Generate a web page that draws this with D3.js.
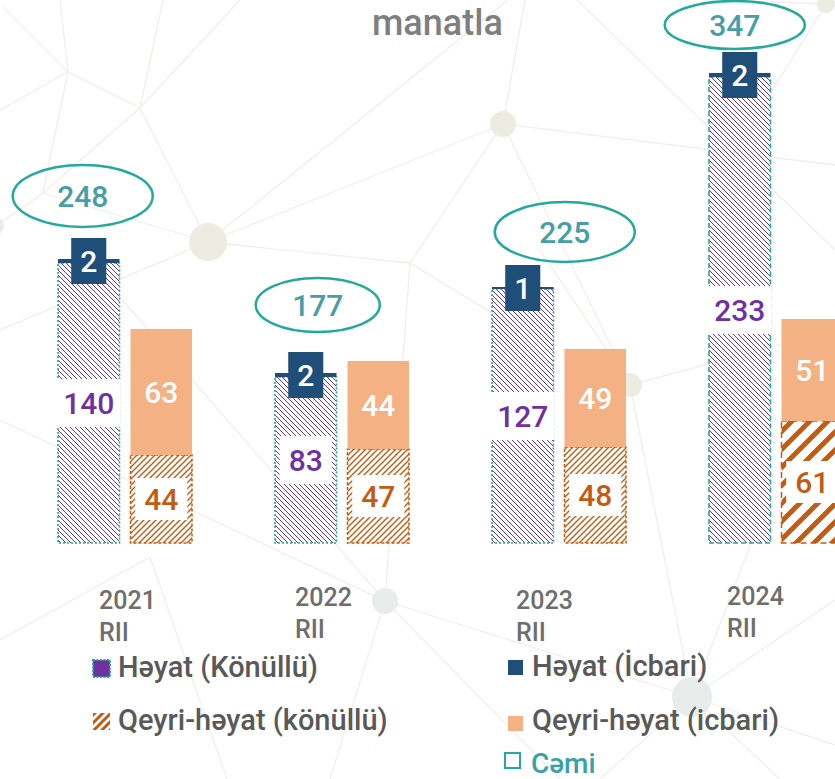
<!DOCTYPE html>
<html>
<head>
<meta charset="utf-8">
<script src="https://cdn.jsdelivr.net/npm/d3@7"></script>
<style>
  body { margin: 0; background: #fff; }
  svg { display: block; font-family: Roboto, "Noto Sans", sans-serif; }
</style>
</head>
<body>
<div id="chart"></div>
<script>
// chart data (manat)
const years = ['2021', '2022', '2023', '2024']
const periodLabel = 'RII'
const hayatKonullu = [140, 83, 127, 233]   // Həyat (Könüllü) - hatched purple
const hayatIcbari = [2, 2, 1, 2]           // Həyat (İcbari) - navy cap
const qeyriKonullu = [44, 47, 48, 61]      // Qeyri-həyat (könüllü) - hatched orange
const qeyriIcbari = [63, 44, 49, 51]       // Qeyri-həyat (icbari) - solid orange
const totals = [248, 177, 225, 347]        // Cəmi

// hand placed labels in the original (offsets from the bar they belong to)
const totalLabelLayout = [
    { dx: -6, dy: -63, rx: 70, ry: 31 },
    { dx: 12, dy: -68, rx: 62, ry: 27 },
    { dx: 42, dy: -55, rx: 70, ry: 30 },
    { dx: -5, dy: -48, rx: 70, ry: 24 }
]
const yearLabelLayout = [{ dx: 41, y: 609 }, { dx: 20, y: 606 }, { dx: 24, y: 609 }, { dx: 18, y: 605 }]

const colors = {
    purple: '#7030A0', navy: '#1F4E79', orange: '#C55A11', peach: '#F4B183',
    teal: '#24AA9B', tealText: '#479EA8', grey: '#7f7f7f', legend: '#595959'
}

const W = 835, H = 779
const svg = d3.select('#chart').append('svg').attr('width', W).attr('height', H)

// ---- background network (decoration only)
const bgNodes = [[208, 242, 19], [503, 124, 13], [385, 601, 13], [692, 697, 20], [630, 385, 12], [-4, 226, 8], [826, 4, 9]]
const bgEdges = [
    [3, 7, 68, 72], [60, 0, 68, 72], [68, 72, 140, 108], [68, 72, 43, 193], [163, 0, 140, 108],
    [140, 108, 240, 0], [140, 108, 208, 242], [140, 108, 43, 193], [43, 193, -4, 226], [43, 193, 208, 242],
    [208, 242, 410, 263], [208, 242, 0, 330], [208, 242, 503, 124], [208, 242, 508, 0], [503, 124, 525, 0],
    [503, 124, 835, 165], [503, 124, 630, 385], [410, 263, 503, 124], [410, 263, 520, 330], [410, 263, 385, 601],
    [385, 601, 692, 697], [385, 601, 330, 779], [385, 601, 560, 779], [120, 297, 385, 601], [0, 420, 385, 601],
    [692, 697, 600, 779], [692, 697, 835, 600], [692, 697, 835, 745], [692, 697, 780, 779], [692, 697, 630, 385],
    [630, 385, 835, 330], [630, 385, 540, 250], [577, 0, 835, 250], [826, 4, 760, 110], [150, 557, 227, 779],
    [0, 640, 150, 557], [720, 0, 826, 4], [692, 697, 760, 520], [0, 110, 68, 72]
]
const bg = svg.append('g').attr('id', 'bg')
bg.selectAll('line').data(bgEdges).enter().append('line')
    .attr('x1', d => d[0]).attr('y1', d => d[1]).attr('x2', d => d[2]).attr('y2', d => d[3])
    .attr('stroke', '#efefec').attr('stroke-width', 1.3)
bg.selectAll('circle').data(bgNodes).enter().append('circle')
    .attr('cx', d => d[0]).attr('cy', d => d[1]).attr('r', d => d[2])
    .attr('fill', (d, i) => (i == 2 || i == 3) ? '#e8eceb' : '#ececE3')

// ---- patterns
const defs = svg.append('defs')
function hatch(id, size, d, color, sw, crisp) {
    defs.append('pattern').attr('id', id).attr('patternUnits', 'userSpaceOnUse')
        .attr('width', size).attr('height', size)
        .append('path').attr('d', d).attr('stroke', color).attr('stroke-width', sw)
        .attr('shape-rendering', crisp ? 'crispEdges' : null)
}
hatch('hatchPurple', 5, 'M-1,-1 L6,6 M-1,4 L1,6 M4,-1 L6,1', colors.purple, 1.3, true)
hatch('hatchOrange', 6, 'M-1,7 L7,-1 M-1,1 L1,-1 M5,7 L7,5', colors.orange, 1.4, false)
hatch('hatchOrangeWide', 18, 'M-3,21 L21,-3 M-3,3 L3,-3 M15,21 L21,15', colors.orange, 5, false)
hatch('hatchOrangeLegend', 8, 'M-2,10 L10,-2 M-2,2 L2,-2 M6,10 L10,6', colors.orange, 3, false)

// ---- scales
const y = d3.scaleLinear().domain([0, 250]).range([543, 43])
const x0 = d3.scaleBand().domain(years).range([58, 843]).paddingInner(83 / 217).paddingOuter(0)
const x1 = d3.scaleBand().domain(['hayat', 'qeyri']).range([0, x0.bandwidth()]).paddingInner(11 / 72.5)
const bw = x1.bandwidth()

// ---- title
svg.append('text').attr('x', 372).attr('y', 35).attr('font-size', 36).attr('font-weight', 500)
    .attr('fill', colors.grey).text('manatla')

const rows = years.map((yr, i) => ({
    yr, i, hk: hayatKonullu[i], hi: hayatIcbari[i], qk: qeyriKonullu[i], qi: qeyriIcbari[i], tot: totals[i]
}))

const groups = svg.selectAll('g.year').data(rows).enter().append('g')
    .attr('class', 'year').attr('transform', d => 'translate(' + x0(d.yr) + ',0)')

// label box + text helper, box sized from the text
function boxLabel(g, cx, cy, txt, color, bg, boxH, maxW) {
    let box = g.append('rect').attr('fill', bg)
    let t = g.append('text').attr('x', cx).attr('y', cy).attr('dy', '0.35em')
        .attr('text-anchor', 'middle').attr('font-size', 30).attr('font-weight', 500)
        .attr('fill', color).text(txt)
    let w = Math.min(maxW, t.node().getComputedTextLength() + 18)
    box.attr('x', cx - w / 2).attr('y', cy - boxH / 2).attr('width', w).attr('height', boxH)
}

groups.each(function (d) {
    let g = d3.select(this)
    let xh = x1('hayat'), xq = x1('qeyri')
    let last = d.i == years.length - 1

    // Həyat (Könüllü)
    g.append('rect').attr('x', xh).attr('y', y(d.hk)).attr('width', bw).attr('height', y(0) - y(d.hk))
        .attr('fill', 'url(#hatchPurple)').attr('stroke', colors.teal).attr('stroke-width', 1.6)
        .attr('stroke-dasharray', last ? '5 3' : '2 2')
    // Həyat (İcbari) thin cap
    g.append('rect').attr('x', xh).attr('y', y(d.hk + d.hi)).attr('width', bw).attr('height', y(d.hk) - y(d.hk + d.hi))
        .attr('fill', colors.navy)

    // Qeyri-həyat (könüllü)
    g.append('rect').attr('x', xq).attr('y', y(d.qk)).attr('width', bw).attr('height', y(0) - y(d.qk))
        .attr('fill', last ? 'url(#hatchOrangeWide)' : 'url(#hatchOrange)')
        .attr('stroke', colors.orange).attr('stroke-width', 1.5).attr('stroke-dasharray', last ? '6 4' : '3 2')
    // Qeyri-həyat (icbari)
    g.append('rect').attr('x', xq).attr('y', y(d.qk + d.qi)).attr('width', bw).attr('height', y(d.qk) - y(d.qk + d.qi))
        .attr('fill', colors.peach)

    // value labels
    boxLabel(g, xh + bw / 2, (y(0) + y(d.hk)) / 2, d.hk, colors.purple, '#fff', 48, bw + 2)
    boxLabel(g, xq + bw / 2, (y(0) + y(d.qk)) / 2, d.qk, colors.orange, '#fff', 42, bw + 2)
    g.append('text').attr('x', xq + bw / 2).attr('y', (y(d.qk) + y(d.qk + d.qi)) / 2).attr('dy', '0.35em')
        .attr('text-anchor', 'middle').attr('font-size', 30).attr('font-weight', 500).attr('fill', '#fff')
        .text(d.qi)
    boxLabel(g, xh + bw / 2, y(d.hk + d.hi / 2), d.hi, '#fff', colors.navy, 46, 60)

    // total in an ellipse
    let lay = totalLabelLayout[d.i]
    let cx = xh + bw / 2 + lay.dx, cy = y(d.hk + d.hi) + lay.dy
    g.append('ellipse').attr('cx', cx).attr('cy', cy).attr('rx', lay.rx).attr('ry', lay.ry)
        .attr('fill', 'none').attr('stroke', colors.teal).attr('stroke-width', 2.5)
    g.append('text').attr('x', cx).attr('y', cy).attr('dy', '0.35em').attr('text-anchor', 'middle')
        .attr('font-size', 30).attr('font-weight', 500).attr('fill', colors.tealText).text(d.tot)

    // category label
    let yl = yearLabelLayout[d.i]
    let cat = g.append('text').attr('x', yl.dx).attr('y', yl.y).attr('font-size', 25)
        .attr('font-weight', 500).attr('fill', '#6e6e6e')
    cat.append('tspan').attr('x', yl.dx).text(d.yr)
    cat.append('tspan').attr('x', yl.dx).attr('dy', 32).text(periodLabel)
})

// ---- legend
const legendItems = [
    { label: 'Həyat (Könüllü)', x: 93, y: 660, w: 17, fill: colors.purple, stroke: colors.teal, dash: '2 1.5', tx: 118, ty: 677 },
    { label: 'Qeyri-həyat (könüllü)', x: 93, y: 713, w: 17, fill: 'url(#hatchOrangeLegend)', tx: 118, ty: 730 },
    { label: 'Həyat (İcbari)', x: 508, y: 660, w: 15, fill: colors.navy, tx: 532, ty: 676 },
    { label: 'Qeyri-həyat (icbari)', x: 508, y: 716, w: 15, fill: colors.peach, tx: 532, ty: 730 },
    { label: 'Cəmi', x: 505, y: 753, w: 15, fill: 'none', stroke: colors.teal, tx: 531, ty: 773, color: '#3aa2a6', size: 28 }
]
const lg = svg.append('g').attr('id', 'legend')
legendItems.forEach(it => {
    lg.append('rect').attr('x', it.x).attr('y', it.y).attr('width', it.w).attr('height', it.w)
        .attr('fill', it.fill).attr('stroke', it.stroke || 'none').attr('stroke-width', 2)
        .attr('stroke-dasharray', it.dash || null)
    lg.append('text').attr('x', it.tx).attr('y', it.ty).attr('font-size', it.size || 29).attr('font-weight', 500)
        .attr('fill', it.color || colors.legend).text(it.label)
})
</script>
</body>
</html>
